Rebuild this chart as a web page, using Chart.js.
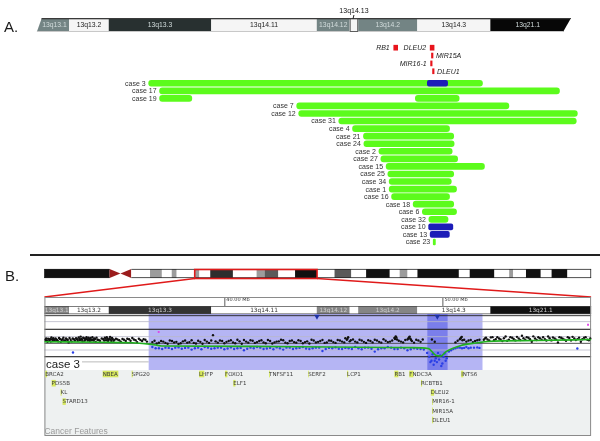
<!DOCTYPE html>
<html><head><meta charset="utf-8">
<script src="https://cdn.jsdelivr.net/npm/chart.js@4.4.1/dist/chart.umd.min.js"></script>
<style>html,body{margin:0;padding:0;background:#fff;}#wrap{width:600px;height:441px;}</style>
</head><body><div id="wrap"><canvas id="c" width="600" height="441"></canvas></div>
<script>
// ================= DATA =================
// Panel A: deleted segments per case (Mb, chr13)
const cases = ['case 3','case 17','case 19','case 7','case 12','case 31','case 4','case 21','case 24','case 2','case 27','case 15','case 25','case 34','case 1','case 16','case 18','case 6','case 32','case 10','case 13','case 23'];
// monoallelic losses (green)
const monoCase  = ['case 3','case 17','case 19','case 19','case 7','case 12','case 31','case 4','case 21','case 24','case 2','case 27','case 15','case 25','case 34','case 1','case 16','case 18','case 6','case 32','case 23'];
const monoStart = [36.53,37.03,37.03,48.76,43.32,43.41,45.25,45.88,46.38,46.40,47.09,47.18,47.42,47.50,47.56,47.56,47.67,48.66,49.08,49.38,49.58];
const monoEnd   = [51.84,55.37,38.51,50.77,53.05,56.19,56.14,50.33,50.52,50.54,50.45,50.70,51.93,50.52,50.41,50.65,50.33,50.52,50.65,50.26,49.68];
// biallelic losses (blue)
const biCase  = ['case 3','case 10','case 13'];
const biStart = [49.31,49.37,49.44];
const biEnd   = [50.24,50.48,50.32];
// genes shown in panel A
const aGene      = ['RB1','DLEU2','MIR15A','MIR16-1','DLEU1'];
const aGeneStart = [47.77,49.44,49.50,49.46,49.55];
const aGeneEnd   = [47.95,49.62,49.57,49.53,49.62];
const aGeneLane  = [0,0,1,2,3];

// cytobands of the region (Mb)
const bandName  = ['13q13.1','13q13.2','13q13.3','13q14.11','13q14.12','13q14.13','13q14.2','13q14.3','13q21.1'];
const bandStart = [31.0,32.88,34.70,39.40,44.24,45.75,46.14,48.85,52.20];
const bandEnd   = [32.88,34.70,39.40,44.24,45.75,46.14,48.85,52.20,57.5];
const bandStain = ['gpos50','gneg','gpos75','gneg','gpos50','gneg','gpos50','gneg','gpos100'];

// whole chromosome 13 ideogram (Mb)
const chrEdges = [0.90,14.30,18.75,22.59,25.02,27.04,28.05,31.75,32.70,34.93,39.58,44.43,46.05,48.88,52.31,56.82,60.40,63.84,66.87,71.72,73.75,75.36,77.39,85.88,88.10,93.16,96.19,97.00,99.63,102.66,104.88,108.12,112.97];
const chrStain = ['gvar','acen','gneg','gpos50','gneg','gpos50','gneg','gpos50','gneg','gpos75','gneg','gpos50','gpos66','gneg','gpos100','gneg','gpos66','gneg','gpos100','gneg','gpos50','gneg','gpos100','gneg','gpos100','gneg','gpos50','gneg','gpos100','gneg','gpos100','gneg'];
const zoomRange = [31.75,56.82];
const viewA = [31.4,55.9];
const tickMb = [40,50];

// Panel B: case 3 probe log2 ratios [Mb, value]
const blackProbes = [
[31.80,0.10],[31.86,0.02],[31.92,0.18],[31.98,0.06],[32.04,-0.04],[32.10,0.14],[32.16,0.22],[32.22,0.04],[32.30,0.12],[32.38,-0.02],[32.46,0.16],[32.54,0.08],[32.62,0.26],[32.70,0.02],[32.78,0.12],[32.86,-0.10],[32.95,0.10],[33.05,0.20],[33.15,0.04],[33.25,0.14],[33.32,0.28],[33.38,0.08],[33.44,0.18],[33.50,-0.02],[33.56,0.22],[33.62,0.10],[33.68,0.30],[33.74,0.04],[33.80,0.16],[33.86,0.24],[33.92,0.06],[33.98,0.12],[34.04,0.20],[34.10,-0.06],[34.18,0.10],[34.30,0.02],[34.45,0.14],[34.52,0.26],[34.58,0.06],[34.64,0.18],[34.70,0.10],[34.76,0.32],[34.82,0.00],[34.88,0.16],[34.96,0.08],[35.10,0.12],[35.25,-0.04],[35.40,0.10],[35.55,0.18],[35.70,0.02],[35.85,0.12],[36.00,-0.08],[36.15,0.08],[36.30,0.14],[36.45,-0.04],
[31.83,0.20],[31.89,-0.06],[32.01,0.16],[32.07,0.28],[32.13,0.00],[32.19,0.10],[32.26,0.20],[32.34,0.06],[32.42,0.24],[32.50,-0.06],[32.58,0.14],[32.66,0.04],[32.74,0.20],[32.82,0.08],[32.90,0.24],[33.00,-0.02],[33.10,0.14],[33.20,0.22],[33.28,0.02],[33.35,0.16],[33.41,0.34],[33.47,0.10],[33.53,0.26],[33.59,0.02],[33.65,0.18],[33.71,0.14],[33.77,0.26],[33.83,0.00],[33.89,0.12],[33.95,0.30],[34.01,0.04],[34.07,0.16],[34.14,0.26],[34.24,0.08],[34.38,0.20],[34.49,0.04],[34.55,0.20],[34.61,0.30],[34.67,0.00],[34.73,0.20],[34.79,0.12],[34.85,0.24],[34.92,0.02],[35.03,0.18],[35.18,0.06],[35.33,0.16],[35.48,0.00],[35.63,0.14],[35.78,0.24],[35.93,0.06],[36.08,0.18],[36.23,0.00],[36.38,0.10],
[36.70,-0.08],[36.90,-0.18],[37.10,0.00],[37.30,-0.14],[37.50,0.04],[37.70,-0.10],[37.90,-0.22],[38.10,-0.02],[38.30,-0.12],[38.50,0.06],[38.70,-0.18],[38.90,-0.06],[39.10,0.08],[39.30,-0.14],[39.48,0.45],[39.60,-0.02],[39.80,0.04],[40.00,-0.16],[40.20,0.00],[40.40,-0.10],[40.60,0.10],[40.80,-0.20],[41.00,-0.04],[41.20,0.06],[41.40,-0.14],[41.60,0.00],[41.80,-0.10],[42.00,0.08],[42.20,-0.18],[42.40,-0.04],[42.60,0.10],[42.80,-0.12],[43.00,0.00],[43.20,-0.08],[43.40,0.06],[43.60,-0.16],[43.80,-0.02],[44.00,0.10],[44.20,-0.10],[44.40,0.00],[44.60,-0.14],[44.80,0.04],[45.00,-0.08],[45.20,0.08],[45.40,-0.04],[45.55,0.22],[45.62,0.10],[45.68,0.30],[45.75,-0.02],[45.90,0.12],[46.10,-0.10],[46.30,0.04],[46.50,-0.14],[46.70,0.00],[46.90,0.10],[47.10,-0.06],[47.30,0.14],[47.50,-0.08],[47.70,0.04],[47.80,0.24],[47.86,0.36],[47.92,0.12],[48.10,-0.04],[48.30,0.08],[48.44,0.20],[48.50,0.34],[48.56,0.10],[48.70,-0.12],[48.90,0.04],[49.10,0.12],[49.52,0.12],[49.65,-0.05],[50.60,-0.10],[50.80,0.14],[50.86,0.26],[50.92,0.06],[51.10,-0.04],[51.30,0.08],[51.50,0.00],[51.70,0.10],
[36.80,0.02],[37.00,-0.12],[37.20,-0.04],[37.40,-0.20],[37.60,0.00],[37.80,-0.06],[38.00,-0.16],[38.20,0.04],[38.40,-0.08],[38.60,-0.14],[38.80,0.02],[39.00,-0.20],[39.20,-0.04],[39.40,0.04],[39.70,-0.12],[39.90,0.00],[40.10,-0.06],[40.30,0.06],[40.50,-0.16],[40.70,-0.02],[40.90,0.08],[41.10,-0.12],[41.30,0.02],[41.50,-0.08],[41.70,0.06],[41.90,-0.16],[42.10,0.00],[42.30,-0.10],[42.50,-0.02],[42.70,0.06],[42.90,-0.16],[43.10,0.04],[43.30,-0.12],[43.50,0.00],[43.70,-0.08],[43.90,-0.18],[44.10,0.04],[44.30,-0.06],[44.50,0.08],[44.70,-0.10],[44.90,0.02],[45.10,-0.14],[45.30,0.04],[45.50,-0.10],[45.65,0.18],[45.80,0.06],[46.00,-0.04],[46.20,0.10],[46.40,-0.06],[46.60,0.06],[46.80,-0.10],[47.00,0.04],[47.20,-0.12],[47.40,0.02],[47.60,-0.04],[47.83,0.16],[47.89,0.28],[48.00,0.02],[48.20,-0.10],[48.40,0.12],[48.47,0.28],[48.53,0.18],[48.60,0.00],[48.80,0.10],[49.00,-0.06],[50.70,0.02],[50.83,0.20],[50.89,0.32],[51.00,0.10],[51.20,0.04],[51.40,-0.08],[51.60,0.06],
[51.90,0.10],[52.00,0.25],[52.15,0.05],[52.30,0.30],[52.45,0.15],[52.60,0.20],[52.75,0.00],[52.90,0.35],[53.05,0.10],[53.20,0.25],[53.35,0.05],[53.50,0.20],[53.65,0.40],[53.80,0.10],[53.95,0.25],[54.10,-0.05],[54.25,0.20],[54.40,0.30],[54.55,0.10],[54.70,0.15],[54.85,0.35],[55.00,0.05],[55.15,0.20],[55.30,-0.10],[55.45,0.25],[55.60,0.10],[55.75,0.30],[55.90,0.05],[56.05,0.20],[56.20,0.15],[56.35,-0.05],[56.50,0.25],[56.65,0.10],[56.78,0.20],
[51.95,0.20],[52.07,0.12],[52.22,0.28],[52.37,0.06],[52.52,0.30],[52.67,0.12],[52.82,0.22],[52.97,0.02],[53.12,0.30],[53.27,0.16],[53.42,0.32],[53.57,0.08],[53.72,0.22],[53.87,0.30],[54.02,0.14],[54.17,0.36],[54.32,0.08],[54.47,0.22],[54.62,0.30],[54.77,0.04],[54.92,0.22],[55.07,0.28],[55.22,0.10],[55.37,0.30],[55.52,0.18],[55.67,0.02],[55.82,0.24],[55.97,0.32],[56.12,0.08],[56.27,0.26],[56.42,0.14],[56.57,0.30],[56.72,0.06]
];
const blueProbes = [
[33.06,-0.87],[36.70,-0.45],[37.00,-0.55],[37.30,-0.50],[37.60,-0.60],[37.90,-0.48],[38.20,-0.52],[38.50,-0.65],[38.80,-0.50],[39.10,-0.45],[39.40,-0.58],[39.70,-0.50],[40.00,-0.62],[40.30,-0.48],[40.60,-0.55],[40.90,-0.70],[41.20,-0.50],[41.50,-0.45],[41.80,-0.60],[42.10,-0.52],[42.40,-0.48],[42.70,-0.65],[43.00,-0.50],[43.30,-0.55],[43.60,-0.45],[43.90,-0.60],[44.20,-0.50],[44.50,-0.75],[44.80,-0.52],[45.10,-0.48],[45.40,-0.60],[45.70,-0.55],[46.00,-0.45],[46.30,-0.62],[46.60,-0.50],[46.90,-0.80],[47.20,-0.55],[47.50,-0.45],[47.80,-0.60],[48.10,-0.50],[48.40,-0.70],[48.70,-0.55],[49.00,-0.60],[49.30,-0.90],[49.40,-1.20],[49.50,-1.50],[49.55,-1.00],[49.60,-1.80],[49.70,-1.30],[49.75,-1.60],[49.80,-0.90],[49.85,-1.40],[49.90,-1.10],[50.00,-1.70],[50.05,-1.20],[50.10,-0.95],[50.20,-1.30],[50.30,-0.80],[50.50,-0.60],[50.70,-0.50],[50.90,-0.55],[51.10,-0.45],[51.30,-0.50],[51.60,-0.48],[56.19,-0.57],
[36.85,-0.55],[37.15,-0.60],[37.45,-0.52],[37.75,-0.50],[38.05,-0.58],[38.35,-0.50],[38.65,-0.55],[38.95,-0.62],[39.25,-0.50],[39.55,-0.55],[39.85,-0.50],[40.15,-0.56],[40.45,-0.60],[40.75,-0.52],[41.05,-0.58],[41.35,-0.55],[41.65,-0.50],[41.95,-0.57],[42.25,-0.62],[42.55,-0.55],[42.85,-0.50],[43.15,-0.60],[43.45,-0.52],[43.75,-0.57],[44.05,-0.55],[44.35,-0.50],[44.65,-0.60],[44.95,-0.55],[45.25,-0.58],[45.55,-0.52],[45.85,-0.60],[46.15,-0.55],[46.45,-0.50],[46.75,-0.58],[47.05,-0.62],[47.35,-0.55],[47.65,-0.50],[47.95,-0.60],[48.25,-0.55],[48.55,-0.62],[48.85,-0.58],[49.15,-0.65],[49.45,-1.60],[49.65,-1.50],[49.95,-1.90],[50.15,-1.50],[50.40,-0.70],[50.60,-0.55],[50.80,-0.50],[51.00,-0.52],[51.20,-0.55],[51.45,-0.50],[51.70,-0.52]
];
const smoothMb  = [31.75,34.42,35.78,36.67,37.12,41.21,44.83,48.58,49.35,49.72,49.94,50.17,50.85,51.62,52.07,54.33,56.82];
const smoothVal = [-0.05,-0.09,-0.13,-0.25,-0.37,-0.40,-0.45,-0.50,-0.57,-1.10,-1.13,-0.80,-0.33,-0.13,-0.03,0.04,0.12];
const outlierProbes = [[36.99,0.69],[56.68,1.24]];
const breakpointMb = [44.25,49.77];
const breakpointVal = [1.87,1.87];

// Panel B: cancer features
const featName  = ['BRCA2','PDS5B','KL','STARD13','NBEA','SPG20','LHFP','FOXO1','ELF1','TNFSF11','SERF2','LCP1','RB1','FNDC3A','RCBTB1','DLEU2','MIR16-1','MIR15A','DLEU1','INTS6'];
const featStart = [31.79,32.08,32.49,32.58,34.42,35.75,38.84,40.03,40.41,42.05,43.85,45.63,47.80,48.48,49.02,49.47,49.53,49.53,49.53,50.86];
const featEnd   = [31.87,32.27,32.54,32.73,35.14,35.80,39.08,40.14,40.51,42.09,43.86,45.68,47.98,48.67,49.07,49.62,49.54,49.54,49.58,50.96];
const featLane  = [0,1,2,3,0,0,0,0,1,0,0,0,0,0,1,2,3,4,5,0];

// ================= LAYOUT =================
const W = 600, H = 441;
function spanDown(val, px, ppu, size){ return {min: val - px/ppu, max: val + (size-px)/ppu}; }
function spanUp(val, px, ppu, size){ return {min: val - (size-px)/ppu, max: val + px/ppu}; }
const xR   = spanDown(40, 223.3, 22.1, W);
const chrR = spanDown(zoomRange[0], 193.3, 4.946, W);
const yAR  = spanDown(0, 80.7, 7.7, H);
const yGR  = spanDown(0, 44.5, 8, H);
const yBR  = spanUp(0, 343.3, 13.4, H);

const FONT = '"Liberation Sans", Arial, sans-serif';
const SMALL = '"DejaVu Sans", sans-serif';
const stainA = {gneg:'#f5f5f5', gpos50:'#738484', gpos75:'#283030', gpos100:'#070707'};
const stainB = {gneg:'#ffffff', gpos50:'#858585', gpos75:'#333333', gpos100:'#111111'};
const stainChr = {gneg:'#ffffff', gpos50:'#9c9c9c', gpos66:'#5a5a5a', gpos75:'#2e2e2e', gpos100:'#111111', gvar:'#111111', acen:'#9b1c1c'};
const aGeneSide = {'RB1':'left','DLEU2':'left','MIR15A':'right','MIR16-1':'left','DLEU1':'right'};
const PB = {top:297, headBot:306, bandBot:314, trackBot:370, bot:435};
const laneTop = 374, laneStep = 9.2;

function darkStain(s){ return s==='gpos50'||s==='gpos75'||s==='gpos100'; }

const backdrop = {
  id:'backdrop',
  beforeDatasetsDraw(chart){
    const ctx = chart.ctx;
    const X = v => chart.scales.x.getPixelForValue(v);
    const C = v => chart.scales.xChr.getPixelForValue(v);
    ctx.save();
    // ---------- Panel A ideogram ----------
    {
      const top=18, bot=32, xl=X(viewA[0]), xr=X(viewA[1]);
      ctx.save();
      ctx.beginPath();
      ctx.moveTo(xl+5, top); ctx.lineTo(xr, top); ctx.lineTo(xr-8, bot); ctx.lineTo(xl, bot); ctx.closePath();
      ctx.clip();
      bandName.forEach((n,i)=>{
        const s = Math.max(bandStart[i], viewA[0]), e = Math.min(bandEnd[i], viewA[1]);
        const x1 = i===0 ? xl-2 : X(s), x2 = i===bandName.length-1 ? xr+2 : X(e);
        ctx.fillStyle = stainA[bandStain[i]];
        ctx.fillRect(x1, top, x2-x1, bot-top);
      });
      ctx.fillStyle='#3a3a3a'; ctx.fillRect(xl, top, xr-xl, 1.3);
      ctx.fillStyle='#c8c8c8'; ctx.fillRect(xl, bot-1, xr-xl, 1);
      ctx.restore();
      ctx.strokeStyle='#444'; ctx.lineWidth=0.8;
      ctx.strokeRect(X(bandStart[5])+0.5, top+0.5, X(bandEnd[5])-X(bandStart[5])-1, bot-top-1);
      ctx.textAlign='center'; ctx.textBaseline='middle';
      bandName.forEach((n,i)=>{
        const s = Math.max(bandStart[i], viewA[0]), e = Math.min(bandEnd[i], viewA[1]);
        const x1 = i===0 ? xl+3 : X(s), x2 = i===bandName.length-1 ? xr-6 : X(e);
        if (x2-x1 < 20) {
          ctx.fillStyle='#111'; ctx.font='7px '+FONT;
          ctx.fillText(n, (x1+x2)/2, 11.5);
          ctx.strokeStyle='#222'; ctx.lineWidth=1;
          ctx.beginPath(); ctx.moveTo((x1+x2)/2, 15); ctx.lineTo((x1+x2)/2-1, 19); ctx.stroke();
          return;
        }
        ctx.font = '6.8px '+FONT;
        ctx.fillStyle = darkStain(bandStain[i]) ? '#d2dcdc' : '#222';
        ctx.fillText(n, (x1+x2)/2, (top+bot)/2+0.5);
      });
    }
    // ---------- separator ----------
    ctx.fillStyle='#222'; ctx.fillRect(30, 254, 570, 2);

    // ---------- chromosome overview ----------
    {
      const top=269, bot=278;
      for (let i=0;i<chrStain.length;i++){
        const x1=C(chrEdges[i]), x2=C(chrEdges[i+1]);
        if (chrStain[i]==='acen'){
          const mid=(x1+x2)/2, ym=(top+bot)/2;
          ctx.fillStyle=stainChr.acen;
          ctx.beginPath(); ctx.moveTo(x1,top); ctx.lineTo(mid,ym); ctx.lineTo(x1,bot); ctx.closePath(); ctx.fill();
          ctx.beginPath(); ctx.moveTo(x2,top); ctx.lineTo(mid,ym); ctx.lineTo(x2,bot); ctx.closePath(); ctx.fill();
        } else {
          ctx.fillStyle=stainChr[chrStain[i]];
          ctx.fillRect(x1, top, x2-x1, bot-top);
        }
      }
      ctx.strokeStyle='#222'; ctx.lineWidth=0.8;
      const c0=C(chrEdges[0]), cA=C(chrEdges[1]), cB=C(chrEdges[2]), cE=C(chrEdges[chrEdges.length-1]);
      ctx.beginPath();
      ctx.moveTo(c0,top+0.4); ctx.lineTo(cA,top+0.4); ctx.moveTo(cB,top+0.4); ctx.lineTo(cE,top+0.4);
      ctx.moveTo(c0,bot-0.4); ctx.lineTo(cA,bot-0.4); ctx.moveTo(cB,bot-0.4); ctx.lineTo(cE,bot-0.4);
      ctx.moveTo(cE-0.4,top); ctx.lineTo(cE-0.4,bot);
      ctx.stroke();
      const z0=C(zoomRange[0]), z1=C(zoomRange[1]);
      ctx.strokeStyle='#e01a1a'; ctx.lineWidth=1.6;
      ctx.strokeRect(z0, top+0.5, z1-z0, bot-top);
      ctx.beginPath();
      ctx.moveTo(z0, bot+0.5); ctx.lineTo(X(zoomRange[0]), PB.top);
      ctx.moveTo(z1, bot+0.5); ctx.lineTo(X(zoomRange[1]), PB.top);
      ctx.stroke();
    }

    // ---------- Panel B ----------
    {
      const L=X(zoomRange[0]), R=X(zoomRange[1]);
      ctx.fillStyle='#fff'; ctx.fillRect(L, PB.top, R-L, PB.trackBot-PB.top);
      ctx.strokeStyle='#333'; ctx.lineWidth=0.8;
      ctx.font='5px '+SMALL; ctx.textAlign='left'; ctx.textBaseline='middle'; ctx.fillStyle='#333';
      tickMb.forEach(t=>{
        const x=X(t);
        ctx.beginPath(); ctx.moveTo(x+0.5, PB.top); ctx.lineTo(x+0.5, PB.headBot); ctx.stroke();
        ctx.fillText(t.toFixed(2)+' Mb', x+2, PB.top+3.2);
      });
      bandName.forEach((n,i)=>{
        const s=Math.max(bandStart[i], zoomRange[0]), e=Math.min(bandEnd[i], zoomRange[1]);
        ctx.fillStyle=stainB[bandStain[i]];
        ctx.fillRect(X(s), PB.headBot, X(e)-X(s), PB.bandBot-PB.headBot);
      });
      ctx.font='5.8px '+SMALL; ctx.textAlign='center';
      bandName.forEach((n,i)=>{
        const s=Math.max(bandStart[i], zoomRange[0]), e=Math.min(bandEnd[i], zoomRange[1]);
        if (X(e)-X(s) < 18) return;
        ctx.fillStyle = darkStain(bandStain[i]) ? '#d0d0d0' : '#333';
        ctx.fillText(n, (X(s)+X(e))/2, (PB.headBot+PB.bandBot)/2+0.5);
      });
      ctx.fillStyle='#444'; ctx.fillRect(L, PB.headBot, R-L, 0.7); ctx.fillRect(L, PB.bandBot-0.5, R-L, 0.7);
      ctx.fillStyle='rgba(90,90,230,0.45)';
      monoCase.forEach((m,i)=>{ if(m==='case 3'){ ctx.fillRect(X(monoStart[i]), PB.bandBot, X(monoEnd[i])-X(monoStart[i]), PB.trackBot-PB.bandBot); }});
      ctx.fillStyle='rgba(50,60,225,0.45)';
      biCase.forEach((m,i)=>{ if(m==='case 3'){ ctx.fillRect(X(biStart[i]), PB.bandBot, X(biEnd[i])-X(biStart[i]), PB.trackBot-PB.bandBot); }});
      const lines=[[315.7,'#222',0.9],[321.7,'#b8b8c8',0.8],[329.3,'#222',1.1],[336.7,'#b8b8c8',0.8],[343.3,'#444',0.9],[350,'#b8b8c8',0.8],[356.7,'#222',1.1]];
      lines.forEach(([y,c,w])=>{ ctx.fillStyle=c; ctx.fillRect(L, y-w/2, R-L, w); });
      ctx.fillStyle='#aaa'; ctx.fillRect(82, 361.5, X(36.53)-82, 0.8);
      ctx.fillStyle='#eef1f1'; ctx.fillRect(L, PB.trackBot, R-L, PB.bot-PB.trackBot);
      ctx.strokeStyle='#8a8a8a'; ctx.lineWidth=1;
      ctx.strokeRect(L+0.5, PB.top+0.5, R-L-1, PB.bot-PB.top);
      ctx.font='5.5px '+SMALL; ctx.textAlign='left'; ctx.textBaseline='middle';
      featName.forEach((n,i)=>{
        const x=X(featStart[i]), w=Math.max(0.8, X(featEnd[i])-x), y=laneTop+featLane[i]*laneStep;
        ctx.fillStyle='#d6e85e'; ctx.fillRect(x, y-3.3, w, 6.6);
        ctx.fillStyle='#3a3a3a'; ctx.fillText(n, x, y+0.3);
      });
      ctx.font='8.5px '+FONT; ctx.fillStyle='#9a9a9a'; ctx.textBaseline='alphabetic';
      ctx.fillText('Cancer Features', L, 433.5);
    }
    ctx.restore();
  }
};

const overlay = {
  id:'overlay',
  afterDatasetsDraw(chart){
    const ctx=chart.ctx;
    const X=v=>chart.scales.x.getPixelForValue(v);
    const YA=r=>chart.scales.yA.getPixelForValue(r);
    const YG=r=>chart.scales.yG.getPixelForValue(r);
    ctx.save();
    ctx.font='7px '+FONT; ctx.fillStyle='#333'; ctx.textAlign='right'; ctx.textBaseline='middle';
    cases.forEach((c,r)=>{
      const st=[];
      monoCase.forEach((m,i)=>{ if(m===c) st.push(monoStart[i]); });
      biCase.forEach((m,i)=>{ if(m===c) st.push(biStart[i]); });
      ctx.fillText(c, X(Math.min(...st))-3, YA(r)+0.5);
    });
    ctx.font='italic 7px '+FONT; ctx.fillStyle='#222';
    aGene.forEach((g,i)=>{
      const y=YG(aGeneLane[i])+0.5;
      if (aGeneSide[g]==='left'){ ctx.textAlign='right'; ctx.fillText(g, X(aGeneStart[i])-4, y); }
      else { ctx.textAlign='left'; ctx.fillText(g, X(aGeneEnd[i])+3, y); }
    });
    ctx.font='15px '+FONT; ctx.fillStyle='#1a1a1a'; ctx.textAlign='left'; ctx.textBaseline='alphabetic';
    ctx.fillText('A.', 4, 31.5);
    ctx.fillText('B.', 5, 281);
    ctx.font='11.5px '+FONT; ctx.fillStyle='#1a1a1a';
    ctx.fillText('case 3', 46, 368);
    ctx.restore();
  }
};

const common = {grid:{display:false}, ticks:{display:false}, border:{display:false}, display:false, offset:false, bounds:'data'};
const chart = new Chart(document.getElementById('c'), {
  type:'bar',
  data:{
    datasets:[
      {type:'line', data:smoothMb.map((m,i)=>({x:m,y:smoothVal[i]})), xAxisID:'x', yAxisID:'yB',
        borderColor:'#20b020', borderWidth:1.6, pointRadius:0, cubicInterpolationMode:'monotone', order:0},
      {type:'scatter', data:breakpointMb.map((m,i)=>({x:m,y:breakpointVal[i]})), xAxisID:'x', yAxisID:'yB',
        pointStyle:'triangle', rotation:180, pointRadius:3.2, backgroundColor:'#1f33a8', borderWidth:0, order:1},
      {type:'scatter', data:outlierProbes.map(p=>({x:p[0],y:p[1]})), xAxisID:'x', yAxisID:'yB',
        pointRadius:1.3, backgroundColor:'#e040e8', borderWidth:0, pointStyle:'rect', order:1},
      {type:'scatter', data:blueProbes.map(p=>({x:p[0],y:p[1]})), xAxisID:'x', yAxisID:'yB',
        pointRadius:1.2, backgroundColor:'#2a3fe6', borderWidth:0, order:2},
      {type:'scatter', data:blackProbes.map(p=>({x:p[0],y:p[1]})), xAxisID:'x', yAxisID:'yB',
        pointRadius:1.2, backgroundColor:'#111', borderWidth:0, order:3},
      {type:'bar', indexAxis:'y', data:biCase.map((c,i)=>({y:cases.indexOf(c), x:[biStart[i],biEnd[i]]})), xAxisID:'x', yAxisID:'yA',
        backgroundColor:'#1c1cb8', barThickness:6, grouped:false, borderRadius:2, borderSkipped:false, order:0},
      {type:'bar', indexAxis:'y', data:monoCase.map((c,i)=>({y:cases.indexOf(c), x:[monoStart[i],monoEnd[i]]})), xAxisID:'x', yAxisID:'yA',
        backgroundColor:'#5cfb1c', barThickness:6, grouped:false, borderRadius:3, borderSkipped:false, order:1},
      {type:'bar', indexAxis:'y', data:aGene.map((g,i)=>({y:aGeneLane[i], x:[aGeneStart[i],aGeneEnd[i]]})), xAxisID:'x', yAxisID:'yG',
        backgroundColor:'#e8141c', barThickness:5, grouped:false, borderRadius:0, borderSkipped:false, order:0}
    ]
  },
  options:{
    responsive:false, animation:false, devicePixelRatio:1,
    layout:{padding:0},
    plugins:{legend:{display:false}, tooltip:{enabled:false}, title:{display:false}},
    scales:{
      x:   Object.assign({type:'linear', axis:'x', min:xR.min, max:xR.max}, common),
      xChr:Object.assign({type:'linear', axis:'x', min:chrR.min, max:chrR.max}, common),
      yA:  Object.assign({type:'linear', axis:'y', reverse:true, min:yAR.min, max:yAR.max}, common),
      yG:  Object.assign({type:'linear', axis:'y', reverse:true, min:yGR.min, max:yGR.max}, common),
      yB:  Object.assign({type:'linear', axis:'y', min:yBR.min, max:yBR.max}, common)
    }
  },
  plugins:[backdrop, overlay]
});
</script></body></html>
